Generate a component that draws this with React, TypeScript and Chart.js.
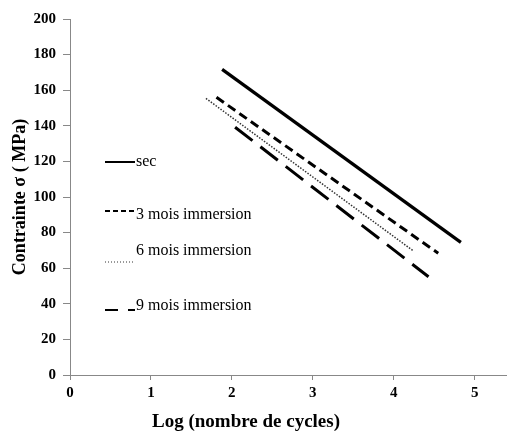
import React, { useEffect, useRef } from "react";
import { Chart, registerables } from "chart.js";

Chart.register(...registerables);

// ---- data ----
const seriesLabels = ["sec", "3 mois immersion", "6 mois immersion", "9 mois immersion"];
const secX = [1.88, 4.83];
const secY = [171.7, 74.5];
const mois3X = [1.81, 4.55];
const mois3Y = [156, 68.4];
const mois6X = [1.68, 4.24];
const mois6Y = [155.4, 69.8];
const mois9X = [2.04, 4.43];
const mois9Y = [139.2, 55.2];
const xTicks = [0, 1, 2, 3, 4, 5];
const yTicks = [0, 20, 40, 60, 80, 100, 120, 140, 160, 180, 200];
const xTitle = "Log (nombre de cycles)";
const yTitle = "Contrainte σ ( MPa)";

const toPoints = (xs: number[], ys: number[]) => xs.map((x, i) => ({ x, y: ys[i] }));

const SERIF = '"Liberation Serif", "Times New Roman", serif';

// legend drawn inside the plot, Excel-style
const legendLineY = [162, 211, 262, 310];
const legendTextY = [162, 215, 251, 306];

const insideLegend = {
  id: "insideLegend",
  afterDatasetsDraw(chart: any) {
    const ctx = chart.ctx;
    ctx.save();
    chart.data.datasets.forEach((ds: any, i: number) => {
      ctx.beginPath();
      ctx.strokeStyle = ds.borderColor;
      ctx.lineWidth = ds.legendWidth || ds.borderWidth;
      ctx.setLineDash(ds.legendDash || ds.borderDash || []);
      ctx.moveTo(105, legendLineY[i]);
      ctx.lineTo(135, legendLineY[i]);
      ctx.stroke();
      ctx.setLineDash([]);
      ctx.fillStyle = "#000";
      ctx.font = `16px ${SERIF}`;
      ctx.textAlign = "left";
      ctx.textBaseline = "middle";
      ctx.fillText(ds.label, 136, legendTextY[i]);
    });
    ctx.restore();
  },
};

const xTitlePlugin = {
  id: "xTitlePlugin",
  afterDraw(chart: any) {
    const ctx = chart.ctx;
    ctx.save();
    ctx.fillStyle = "#000";
    ctx.font = `bold 19px ${SERIF}`;
    ctx.textAlign = "center";
    ctx.textBaseline = "alphabetic";
    ctx.fillText(xTitle, 246, 427);
    ctx.restore();
  },
};

export default function App() {
  const ref = useRef<HTMLCanvasElement | null>(null);

  useEffect(() => {
    if (!ref.current) return;
    const chart = new Chart(ref.current, {
      type: "line",
      data: {
        datasets: [
          {
            label: seriesLabels[0],
            data: toPoints(secX, secY),
            borderColor: "#000",
            borderWidth: 3.2,
            legendWidth: 2,
            pointRadius: 0,
          },
          {
            label: seriesLabels[1],
            data: toPoints(mois3X, mois3Y),
            borderColor: "#000",
            borderWidth: 3,
            borderDash: [9, 5],
            legendWidth: 2,
            legendDash: [5, 3],
            pointRadius: 0,
          },
          {
            label: seriesLabels[2],
            data: toPoints(mois6X, mois6Y),
            borderColor: "#333",
            borderWidth: 1.5,
            borderDash: [1.5, 1.5],
            legendWidth: 1,
            legendDash: [1, 2],
            pointRadius: 0,
          },
          {
            label: seriesLabels[3],
            data: toPoints(mois9X, mois9Y),
            borderColor: "#000",
            borderWidth: 3,
            borderDash: [22, 10],
            legendWidth: 2,
            legendDash: [13, 10],
            pointRadius: 0,
          },
        ] as any,
      },
      options: {
        animation: false,
        responsive: false,
        layout: { padding: { top: 19, right: 0, bottom: 0, left: 0 } },
        plugins: { legend: { display: false }, tooltip: { enabled: false } },
        scales: {
          x: {
            type: "linear",
            min: 0,
            max: 5.4,
            afterBuildTicks: (s: any) => {
              s.ticks = xTicks.map((v) => ({ value: v }));
            },
            afterFit: (s: any) => {
              s.height = 57;
            },
            grid: { drawOnChartArea: false, drawTicks: true, tickLength: 5, color: "#888" },
            border: { color: "#888", width: 1 },
            ticks: {
              color: "#000",
              padding: 4,
              font: { family: SERIF, size: 15, weight: "bold" },
            },
            title: { display: false, text: xTitle },
          },
          y: {
            type: "linear",
            min: 0,
            max: 200,
            afterBuildTicks: (s: any) => {
              s.ticks = yTicks.map((v) => ({ value: v }));
            },
            afterFit: (s: any) => {
              s.width = 70;
            },
            grid: { drawOnChartArea: false, drawTicks: true, tickLength: 7, color: "#888" },
            border: { color: "#888", width: 1 },
            ticks: {
              color: "#000",
              padding: 7,
              font: { family: SERIF, size: 15, weight: "bold" },
            },
            title: {
              display: true,
              text: yTitle,
              color: "#000",
              padding: { top: 10, bottom: 0 },
              font: { family: SERIF, size: 18, weight: "bold" },
            },
          },
        },
      } as any,
      plugins: [insideLegend, xTitlePlugin],
    });
    return () => chart.destroy();
  }, []);

  return (
    <div style={{ position: "fixed", left: 0, top: 0, width: 507, height: 432, background: "#fff" }}>
      <canvas ref={ref} width={507} height={432} style={{ width: 507, height: 432 }} />
    </div>
  );
}
